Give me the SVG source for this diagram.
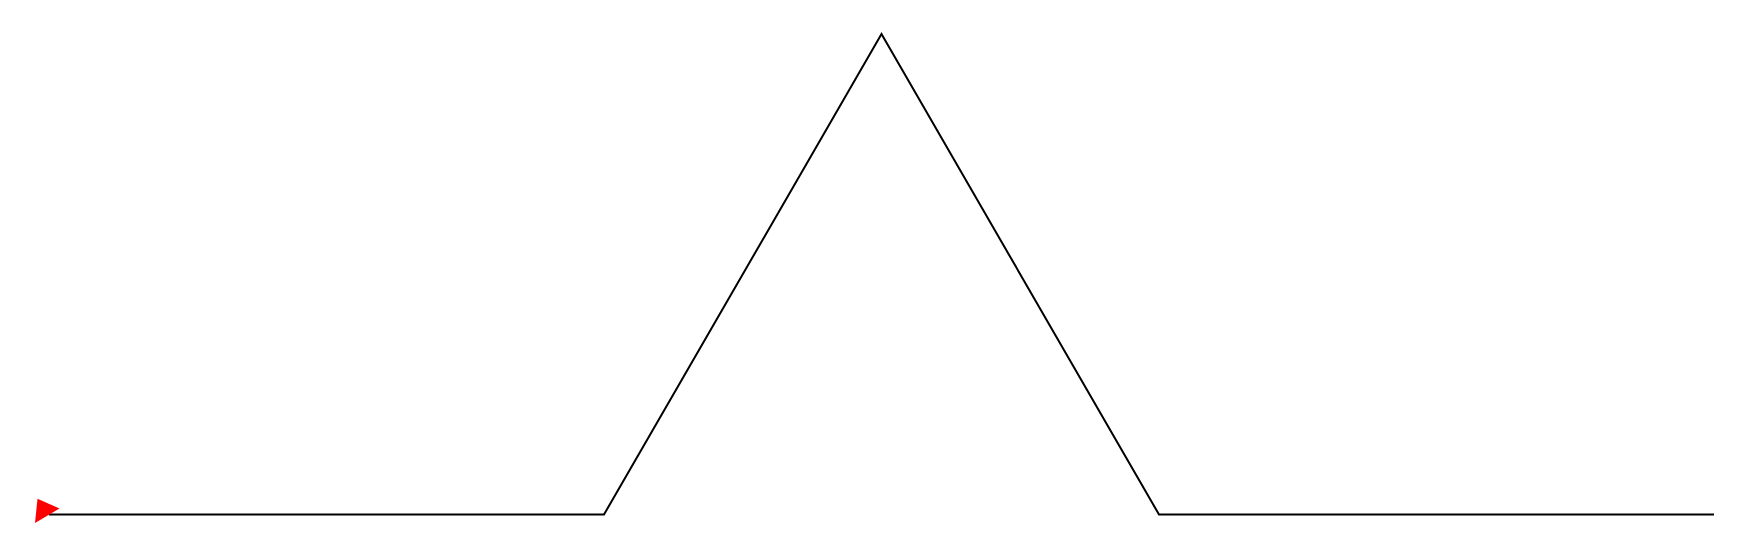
<svg xmlns="http://www.w3.org/2000/svg" width="1737" height="555" viewBox="0 0 1737 555">
<style>
.curve{fill:none;stroke:#000;stroke-width:2;stroke-linejoin:miter}
.turtle{fill:#ff0000;stroke:none}
</style>
<rect width="1737" height="555" fill="#fff"/>
<g id="connectors">
<polyline class="curve" points="49,514.5 604,514.5 881.5,34 1159,514.5 1714,514.5"/>
</g>
<g id="turtle">
<polygon class="turtle" points="59.5,508.5 37.5,498.8 35,523"/>
</g>
</svg>
